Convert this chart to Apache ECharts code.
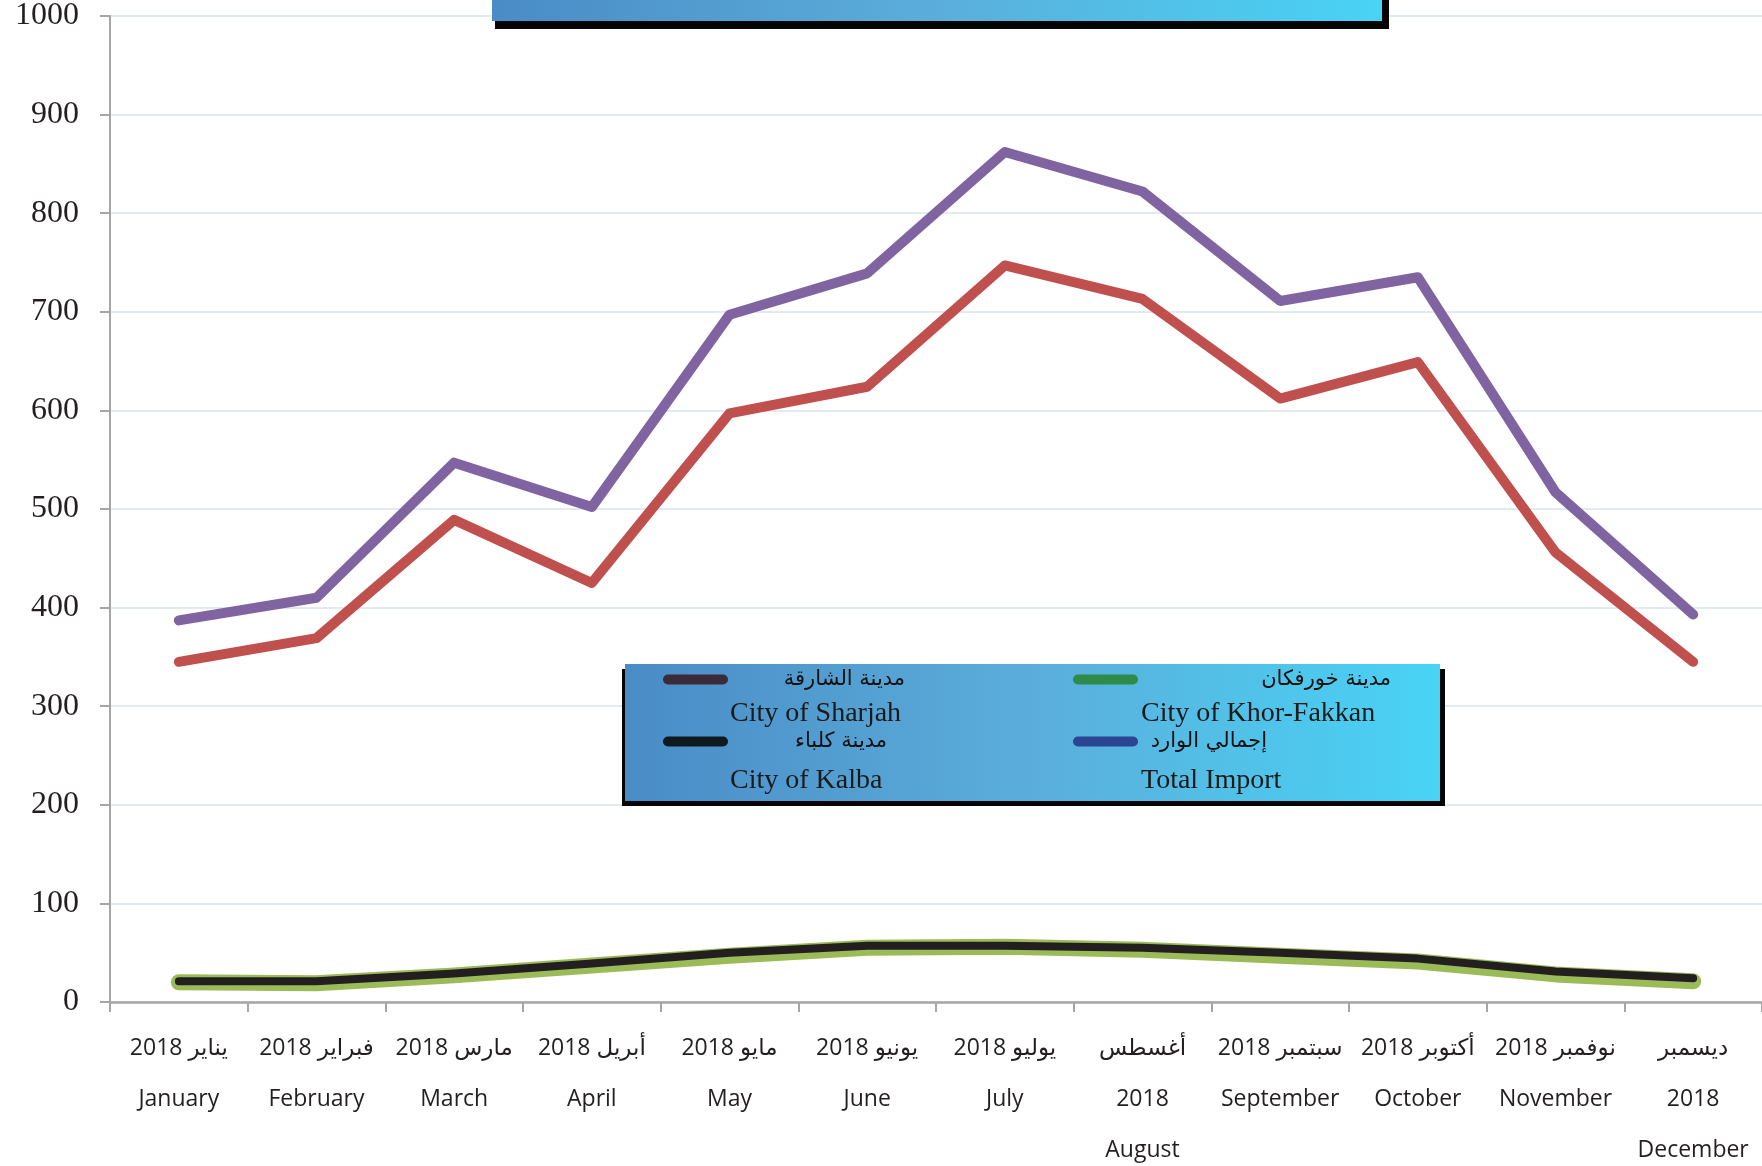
<!DOCTYPE html>
<html>
<head>
<meta charset="utf-8">
<script src="https://cdn.jsdelivr.net/npm/echarts@6/dist/echarts.min.js"></script>
<style>
  html, body { margin: 0; padding: 0; background: #fff; }
  #chart { width: 1762px; height: 1166px; }
</style>
</head>
<body>
<div id="chart"></div>
<script>
// months (arabic line(s) + english line)
var monthsAr = ['2018 يناير', '2018 فبراير', '2018 مارس', '2018 أبريل', '2018 مايو', '2018 يونيو',
  '2018 يوليو', 'أغسطس\n2018', '2018 سبتمبر', '2018 أكتوبر', '2018 نوفمبر', 'ديسمبر\n2018']
var monthsEn = ['January', 'February', 'March', 'April', 'May', 'June',
  'July', 'August', 'September', 'October', 'November', 'December']

var sharjah = [345, 369, 489, 425, 597, 624, 747, 713, 612, 649, 456, 345]
var khorFakkan = [20, 19, 27, 37, 47, 55, 56, 53, 47, 41, 28, 21]
var kalba = [21, 21, 29, 39, 50, 57, 57, 55, 50, 44, 31, 24]
var totalImport = [387, 410, 547, 502, 697, 739, 862, 822, 711, 735, 517, 393]

var yTicks = [0, 1000, 100] // min, max, interval

var names = {
  sharjah: ['مدينة الشارقة', 'City of Sharjah'],
  khor: ['مدينة خورفكان', 'City of Khor-Fakkan'],
  kalba: ['مدينة كلباء', 'City of Kalba'],
  total: ['إجمالي الوارد', 'Total Import']
}

var chart = echarts.init(document.getElementById('chart'))

// width of arabic legend text box (right aligned)
var arWidth = {}
arWidth[names.sharjah[0]] = 172
arWidth[names.kalba[0]] = 154
arWidth[names.khor[0]] = 248
arWidth[names.total[0]] = 124

var pill = 'path://M5,0 L60,0 A5,5 0 0 1 60,10 L5,10 A5,5 0 0 1 5,0 Z'

function legendCol(left, items) {
  return {
    orient: 'vertical',
    left: left,
    top: 669,
    padding: 0,
    itemGap: 41,
    itemWidth: 65,
    itemHeight: 10,
    icon: pill,
    z: 20,
    selectedMode: false,
    data: items,
    formatter: function(name) {
      return '{a' + arWidth[name] + '|' + name + '}'
    },
    textStyle: {
      rich: (function() {
        var r = {}
        Object.keys(arWidth).forEach(function(k) {
          r['a' + arWidth[k]] = {
            width: arWidth[k], align: 'right', fontFamily: 'DejaVu Sans',
            fontSize: 21, lineHeight: 26, color: '#111'
          }
        })
        return r
      })()
    }
  }
}

var boxGradient = {
  type: 'linear', x: 0, y: 0, x2: 1, y2: 0,
  colorStops: [
    { offset: 0, color: '#4A8CC6' },
    { offset: 0.5, color: '#5BAEDB' },
    { offset: 1, color: '#48D3F5' }
  ]
}

var englishText = { fontFamily: 'Liberation Serif', fontSize: 28, fill: '#1a1a1a', verticalAlign: 'middle' }

var option = {
  animation: false,
  backgroundColor: '#fff',
  grid: { left: 110, right: -3, top: 16, bottom: 164, containLabel: false },
  legend: [
    legendCol(663, [
      { name: names.sharjah[0], itemStyle: { color: '#3B2B3A' } },
      { name: names.kalba[0], itemStyle: { color: '#0E1A20' } }
    ]),
    legendCol(1073, [
      { name: names.khor[0], itemStyle: { color: '#2E8B4A' } },
      { name: names.total[0], itemStyle: { color: '#2A4592' } }
    ])
  ],
  graphic: [
    // partly visible title box
    { type: 'rect', z: 10, shape: { x: 495, y: -10, width: 894, height: 39 }, style: { fill: '#050505' } },
    { type: 'rect', z: 11, shape: { x: 492, y: -10, width: 890, height: 31 }, style: { fill: boxGradient } },
    // legend box
    { type: 'rect', z: 10, shape: { x: 622, y: 669, width: 823, height: 137 }, style: { fill: '#050505' } },
    { type: 'rect', z: 11, shape: { x: 625, y: 664, width: 815, height: 137 }, style: { fill: boxGradient } },
    { type: 'text', z: 21, x: 730, y: 714, style: Object.assign({ text: names.sharjah[1] }, englishText) },
    { type: 'text', z: 21, x: 730, y: 781, style: Object.assign({ text: names.kalba[1] }, englishText) },
    { type: 'text', z: 21, x: 1141, y: 714, style: Object.assign({ text: names.khor[1] }, englishText) },
    { type: 'text', z: 21, x: 1141, y: 781, style: Object.assign({ text: names.total[1] }, englishText) }
  ],
  xAxis: {
    type: 'category',
    data: monthsEn,
    boundaryGap: true,
    axisLine: { show: true, lineStyle: { color: '#A6A6A6', width: 2.5 } },
    axisTick: { show: true, length: 10, lineStyle: { color: '#A6A6A6', width: 2 } },
    splitLine: { show: false },
    axisLabel: {
      interval: 0,
      margin: 21,
      formatter: function(value, idx) {
        var lines = monthsAr[idx].split('\n').map(function(s) { return '{ar|' + s + '}' })
        lines.push('{en|' + value + '}')
        return lines.join('\n')
      },
      rich: {
        ar: { fontFamily: "'Open Sans', 'DejaVu Sans'", fontSize: 23, lineHeight: 51, color: '#231F20' },
        en: { fontFamily: 'Open Sans', fontSize: 23, lineHeight: 51, color: '#231F20' }
      }
    }
  },
  yAxis: {
    type: 'value',
    min: yTicks[0],
    max: yTicks[1],
    interval: yTicks[2],
    axisLine: { show: true, lineStyle: { color: '#A6A6A6', width: 2 } },
    axisTick: { show: true, length: 10, lineStyle: { color: '#A6A6A6', width: 2 } },
    splitLine: { show: true, lineStyle: { color: '#D8E5F1', width: 1.5 } },
    axisLabel: {
      margin: 31, fontFamily: 'Liberation Serif', fontSize: 32, color: '#231F20',
      formatter: function(v) { return String(v) }
    }
  },
  series: [
    {
      name: names.khor[0], type: 'line', data: khorFakkan, z: 2,
      showSymbol: false, symbol: 'none', color: '#9BBB59',
      lineStyle: { width: 16, color: '#9BBB59', cap: 'round', join: 'round' }
    },
    {
      name: names.kalba[0], type: 'line', data: kalba, z: 3,
      showSymbol: false, symbol: 'none', color: '#231F20',
      lineStyle: { width: 8, color: '#231F20', cap: 'round', join: 'round' }
    },
    {
      name: names.sharjah[0], type: 'line', data: sharjah, z: 3,
      showSymbol: false, symbol: 'none', color: '#C0504D',
      lineStyle: { width: 10, color: '#C0504D', cap: 'round', join: 'round' }
    },
    {
      name: names.total[0], type: 'line', data: totalImport, z: 3,
      showSymbol: false, symbol: 'none', color: '#8064A2',
      lineStyle: { width: 10, color: '#8064A2', cap: 'round', join: 'round' }
    }
  ]
}

chart.setOption(option)
window.addEventListener('resize', function() {
  chart.resize()
})
</script>
</body>
</html>
